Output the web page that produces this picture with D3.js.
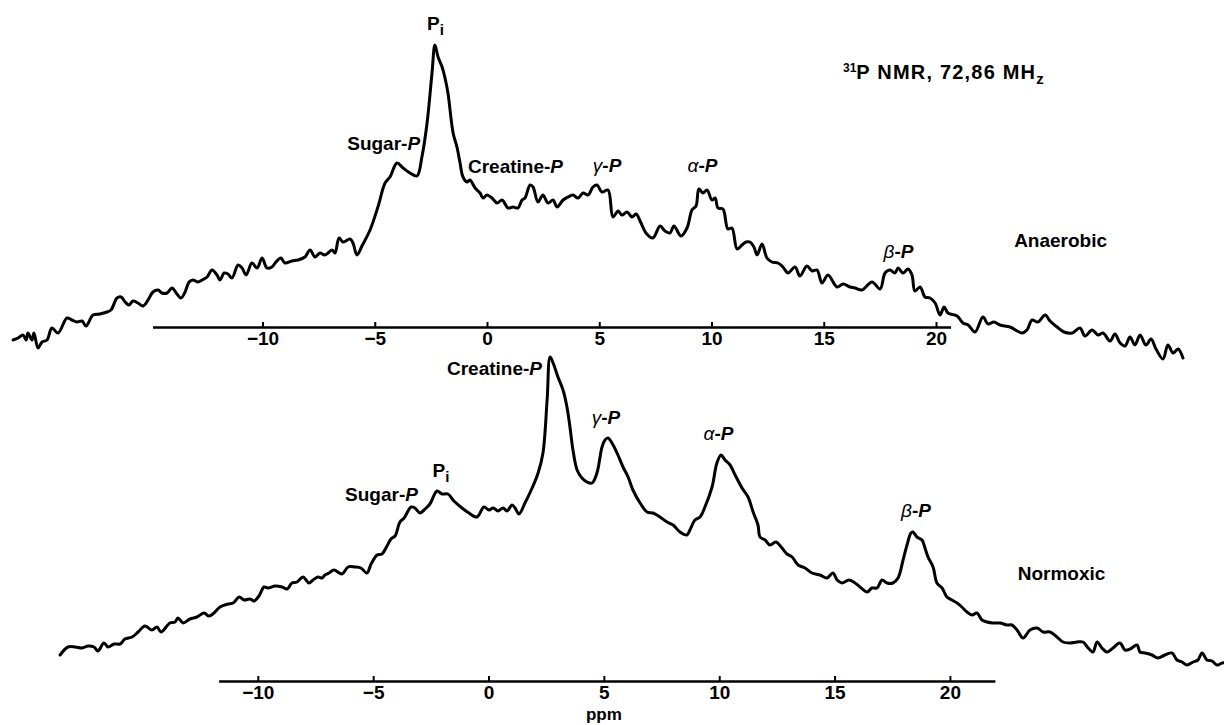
<!DOCTYPE html>
<html>
<head>
<meta charset="utf-8">
<script src="https://cdn.jsdelivr.net/npm/d3@7"></script>
<style>
  body { margin: 0; background: #fff; }
  text { font-family: "Liberation Sans", Arial, sans-serif; font-weight: bold; fill: #000; }
</style>
</head>
<body>
<div id="spectra"></div>
<script>
// 31P NMR spectra, [chemical shift (ppm), intensity (a.u.)]
var anaerobic = [[-21.11,-13],[-20.89,-11],[-20.67,-8],[-20.53,-13],[-20.45,-6],[-20.27,-13],[-20.18,-6],[-20.00,-21],[-19.82,-15],[-19.60,-13],[-19.38,-1],[-19.11,-6],[-18.71,9],[-18.49,7],[-18.26,5],[-18.04,6],[-17.86,1],[-17.55,12],[-17.24,13],[-16.93,15],[-16.75,17],[-16.48,29],[-16.30,30],[-16.12,25],[-15.95,22],[-15.77,26],[-15.55,24],[-15.32,21],[-15.10,27],[-14.88,35],[-14.65,37],[-14.48,34],[-14.25,34],[-14.03,39],[-13.81,33],[-13.63,29],[-13.45,35],[-13.27,45],[-13.10,47],[-12.87,45],[-12.69,47],[-12.47,50],[-12.25,57],[-12.03,52],[-11.89,47],[-11.71,54],[-11.54,53],[-11.36,49],[-11.09,62],[-10.91,59],[-10.73,52],[-10.47,64],[-10.24,59],[-10.02,69],[-9.80,59],[-9.58,60],[-9.40,65],[-9.18,69],[-9.00,64],[-8.69,66],[-8.42,67],[-8.11,70],[-7.88,77],[-7.66,70],[-7.44,74],[-7.22,72],[-6.90,77],[-6.77,74],[-6.59,89],[-6.41,85],[-6.10,88],[-5.97,84],[-5.79,72],[-5.57,81],[-5.21,97],[-4.86,120],[-4.54,144],[-4.32,150],[-4.01,164],[-3.74,159],[-3.43,154],[-3.12,151],[-2.90,170],[-2.67,204],[-2.45,254],[-2.32,282],[-2.18,270],[-2.00,260],[-1.87,249],[-1.74,234],[-1.51,194],[-1.34,180],[-1.20,164],[-1.07,150],[-0.89,145],[-0.76,147],[-0.53,139],[-0.31,134],[-0.18,129],[0.00,132],[0.22,129],[0.45,124],[0.67,127],[0.94,119],[1.16,120],[1.38,119],[1.56,127],[1.69,129],[1.92,142],[2.05,140],[2.27,125],[2.49,132],[2.72,124],[2.94,127],[3.12,120],[3.39,127],[3.61,130],[3.83,132],[4.05,129],[4.28,134],[4.50,132],[4.72,140],[4.90,142],[5.12,135],[5.39,137],[5.61,110],[5.84,116],[6.01,112],[6.24,115],[6.46,110],[6.64,113],[6.86,104],[7.08,94],[7.39,89],[7.71,101],[7.93,96],[8.15,94],[8.33,101],[8.64,91],[8.91,99],[9.13,117],[9.31,121],[9.44,138],[9.62,134],[9.80,137],[10.02,127],[10.16,129],[10.29,119],[10.51,118],[10.73,98],[10.91,99],[11.14,78],[11.36,82],[11.54,85],[11.71,85],[11.89,80],[12.03,72],[12.25,83],[12.47,69],[12.69,65],[12.96,64],[13.18,60],[13.41,54],[13.72,60],[13.94,51],[14.25,61],[14.48,56],[14.70,57],[14.92,44],[15.19,52],[15.59,40],[15.86,43],[16.17,40],[16.39,39],[16.70,37],[17.15,45],[17.51,38],[17.73,54],[17.95,57],[18.17,54],[18.31,59],[18.53,54],[18.75,58],[18.93,52],[19.06,36],[19.29,40],[19.51,30],[19.73,29],[19.96,24],[20.18,12],[20.36,20],[20.53,14],[20.94,11],[21.20,4],[21.43,2],[21.74,-5],[22.09,10],[22.32,3],[22.58,5],[22.85,2],[23.30,0],[23.83,-6],[24.05,-3],[24.28,7],[24.54,5],[24.86,12],[25.08,6],[25.39,0],[25.70,-5],[26.06,-6],[26.41,-1],[26.64,-9],[26.95,-3],[27.22,-8],[27.44,-6],[27.75,-14],[27.97,-7],[28.20,-16],[28.42,-19],[28.64,-10],[28.86,-18],[29.09,-8],[29.35,-18],[29.58,-12],[29.80,-22],[30.11,-32],[30.33,-18],[30.56,-26],[30.78,-22],[31.00,-31]];

var normoxic = [[-18.57,26],[-18.23,34],[-17.92,34],[-17.62,33],[-17.36,35],[-17.10,34],[-16.93,30],[-16.67,38],[-16.49,34],[-16.23,37],[-15.97,37],[-15.76,42],[-15.45,44],[-15.19,49],[-14.89,55],[-14.59,51],[-14.37,54],[-14.20,49],[-13.81,58],[-13.59,59],[-13.46,63],[-13.24,58],[-12.94,62],[-12.64,64],[-12.33,68],[-12.12,65],[-11.90,68],[-11.64,74],[-11.29,77],[-11.07,78],[-10.81,84],[-10.60,81],[-10.34,82],[-10.16,80],[-9.95,85],[-9.73,94],[-9.56,93],[-9.25,95],[-8.95,94],[-8.73,92],[-8.52,98],[-8.30,99],[-8.04,104],[-7.78,98],[-7.61,101],[-7.39,104],[-7.22,103],[-7.09,106],[-6.91,108],[-6.70,111],[-6.35,107],[-6.09,114],[-5.79,114],[-5.53,113],[-5.27,108],[-5.09,117],[-4.83,126],[-4.62,127],[-4.40,135],[-4.23,142],[-4.05,145],[-3.84,159],[-3.66,163],[-3.36,174],[-3.19,173],[-2.97,168],[-2.75,172],[-2.54,177],[-2.23,190],[-2.02,187],[-1.76,187],[-1.50,180],[-1.15,173],[-0.85,168],[-0.50,164],[-0.20,174],[0.02,171],[0.20,173],[0.41,170],[0.63,173],[0.80,170],[1.02,176],[1.15,173],[1.32,167],[1.58,178],[1.89,193],[2.15,208],[2.36,228],[2.54,281],[2.67,324],[2.80,318],[3.01,304],[3.23,291],[3.40,274],[3.53,254],[3.66,231],[3.84,211],[4.05,203],[4.27,199],[4.49,198],[4.70,208],[4.92,234],[5.05,241],[5.18,243],[5.40,236],[5.61,226],[5.83,214],[6.05,204],[6.26,191],[6.57,178],[6.87,169],[7.13,168],[7.43,164],[7.74,159],[8.00,156],[8.30,149],[8.60,146],[8.73,151],[8.95,161],[9.17,164],[9.38,174],[9.69,194],[9.90,218],[10.08,226],[10.25,221],[10.47,216],[10.69,206],[10.99,193],[11.25,184],[11.47,169],[11.68,156],[11.77,144],[11.99,141],[12.20,136],[12.46,139],[12.72,133],[12.94,127],[13.16,124],[13.42,116],[13.72,113],[14.02,108],[14.37,106],[14.67,103],[14.93,108],[15.11,101],[15.32,98],[15.63,101],[15.89,98],[16.10,94],[16.41,89],[16.62,93],[16.84,93],[17.06,101],[17.27,98],[17.53,98],[17.75,103],[17.97,121],[18.14,136],[18.31,148],[18.40,149],[18.57,144],[18.79,141],[18.92,133],[19.05,124],[19.27,114],[19.44,98],[19.66,93],[19.87,84],[20.09,81],[20.31,78],[20.52,74],[20.74,69],[20.96,66],[21.17,68],[21.39,61],[21.61,59],[21.87,58],[22.17,58],[22.47,56],[22.69,56],[22.91,51],[23.17,43],[23.47,51],[23.78,53],[24.04,49],[24.34,49],[24.64,44],[24.90,39],[25.21,38],[25.51,39],[25.77,39],[25.99,33],[26.20,29],[26.38,39],[26.59,33],[26.81,29],[27.07,33],[27.37,38],[27.59,31],[27.81,32],[28.11,36],[28.24,29],[28.46,28],[28.76,26],[29.02,23],[29.32,26],[29.63,28],[29.84,21],[30.06,19],[30.28,16],[30.54,19],[30.75,21],[30.93,28],[31.14,21],[31.36,20],[31.58,16],[31.80,18],[31.97,18]];

// peak assignments: label, shift (ppm), intensity where the label sits
var anaerobicPeaks = [
    {text: "Pi", ppm: -2.3, value: 297},
    {text: "Sugar-P", ppm: -2.98, value: 177, anchor: "end"},
    {text: "Creatine-P", ppm: 1.27, value: 154},
    {text: "γ-P", ppm: 5.35, value: 155},
    {text: "α-P", ppm: 9.6, value: 155},
    {text: "β-P", ppm: 18.33, value: 69}
];
var normoxicPeaks = [
    {text: "Sugar-P", ppm: -3.06, value: 180, anchor: "end"},
    {text: "Pi", ppm: -2.06, value: 204},
    {text: "Creatine-P", ppm: 0.26, value: 306},
    {text: "γ-P", ppm: 5.09, value: 257},
    {text: "α-P", ppm: 9.97, value: 241},
    {text: "β-P", ppm: 18.53, value: 164}
];
var conditions = [
    {text: "Anaerobic", ppm: 25.55, value: 80},
    {text: "Normoxic", ppm: 24.84, value: 101}
];
var ppmTicks = [-10, -5, 0, 5, 10, 15, 20];

var width = 1224, height = 725;

var svg = d3.select("#spectra")
    .append("svg")
    .attr("width", width)
    .attr("height", height);

// each spectrum has its own shift axis, slightly offset like the original figure
var panels = [
    {data: anaerobic, peaks: anaerobicPeaks, cond: conditions[0],
     x: d3.scaleLinear().domain([-14.9, 20.65]).range([152.5, 950.6]),
     y: d3.scaleLinear().domain([0, 300]).range([327, 27])},
    {data: normoxic, peaks: normoxicPeaks, cond: conditions[1],
     x: d3.scaleLinear().domain([-11.7, 21.95]).range([218.6, 994.9]),
     y: d3.scaleLinear().domain([0, 300]).range([681, 381])}
];

// splits "Sugar-P", "γ-P", "Pi" into styled pieces
function labelParts(t) {
    if (t === "Pi") return [["P", ""], ["i", "sub"]];
    var head = t.slice(0, -2);
    if (/^[αβγ]$/.test(head)) return [[head, "greek"], ["-", ""], ["P", "ital"]];
    return [[head + "-", ""], ["P", "ital"]];
}

function drawLabel(g, x, y, parts, anchor) {
    var t = g.append("text")
        .attr("x", x)
        .attr("y", y)
        .style("font-size", "19px")
        .style("text-anchor", anchor || "middle");
    parts.forEach(function(p) {
        var s = t.append("tspan").text(p[0]);
        if (p[1] === "ital") s.style("font-style", "italic");
        if (p[1] === "greek") s.style("font-style", "italic").style("font-weight", "normal");
        if (p[1] === "sub") s.attr("dy", 5).style("font-size", "15px");
    });
    return t;
}

panels.forEach(function(p) {
    var g = svg.append("g");

    // axis with short upward ticks
    var axis = g.append("g")
        .attr("transform", "translate(0," + p.y(0) + ")")
        .call(d3.axisBottom(p.x)
            .tickValues(ppmTicks)
            .tickSizeInner(-5)
            .tickSizeOuter(0)
            .tickPadding(5)
            .tickFormat(d3.format("d")));
    axis.select(".domain").attr("stroke-width", 2.5);
    axis.selectAll(".tick line").attr("stroke-width", 2);
    axis.selectAll(".tick text")
        .attr("fill", "#000")
        .style("font-size", "19px")
        .style("font-family", "'Liberation Sans', Arial, sans-serif")
        .style("font-weight", "bold");

    // the spectrum
    var line = d3.line()
        .curve(d3.curveCatmullRom.alpha(0.5))
        .x(function(d) { return p.x(d[0]); })
        .y(function(d) { return p.y(d[1]); });
    g.append("path")
        .datum(p.data)
        .attr("d", line)
        .attr("fill", "none")
        .attr("stroke", "#000")
        .attr("stroke-width", 3)
        .attr("stroke-linejoin", "round")
        .attr("stroke-linecap", "round");

    // peak labels
    p.peaks.forEach(function(d) {
        drawLabel(g, p.x(d.ppm), p.y(d.value), labelParts(d.text), d.anchor);
    });
    drawLabel(g, p.x(p.cond.ppm), p.y(p.cond.value), [[p.cond.text, ""]]);
});

// unit under the lower axis
svg.append("text")
    .attr("x", panels[1].x(5))
    .attr("y", 720)
    .style("font-size", "17px")
    .style("text-anchor", "middle")
    .text("ppm");

// title
var title = svg.append("text")
    .attr("x", 843)
    .attr("y", 79)
    .style("font-size", "20px")
    .style("letter-spacing", "1.2px");
title.append("tspan").text("31").attr("dy", -7).style("font-size", "12px").style("letter-spacing", "0px");
title.append("tspan").text("P NMR, 72,86 MH").attr("dy", 7);
title.append("tspan").text("z").attr("dy", 5).style("font-size", "15px");
</script>
</body>
</html>
